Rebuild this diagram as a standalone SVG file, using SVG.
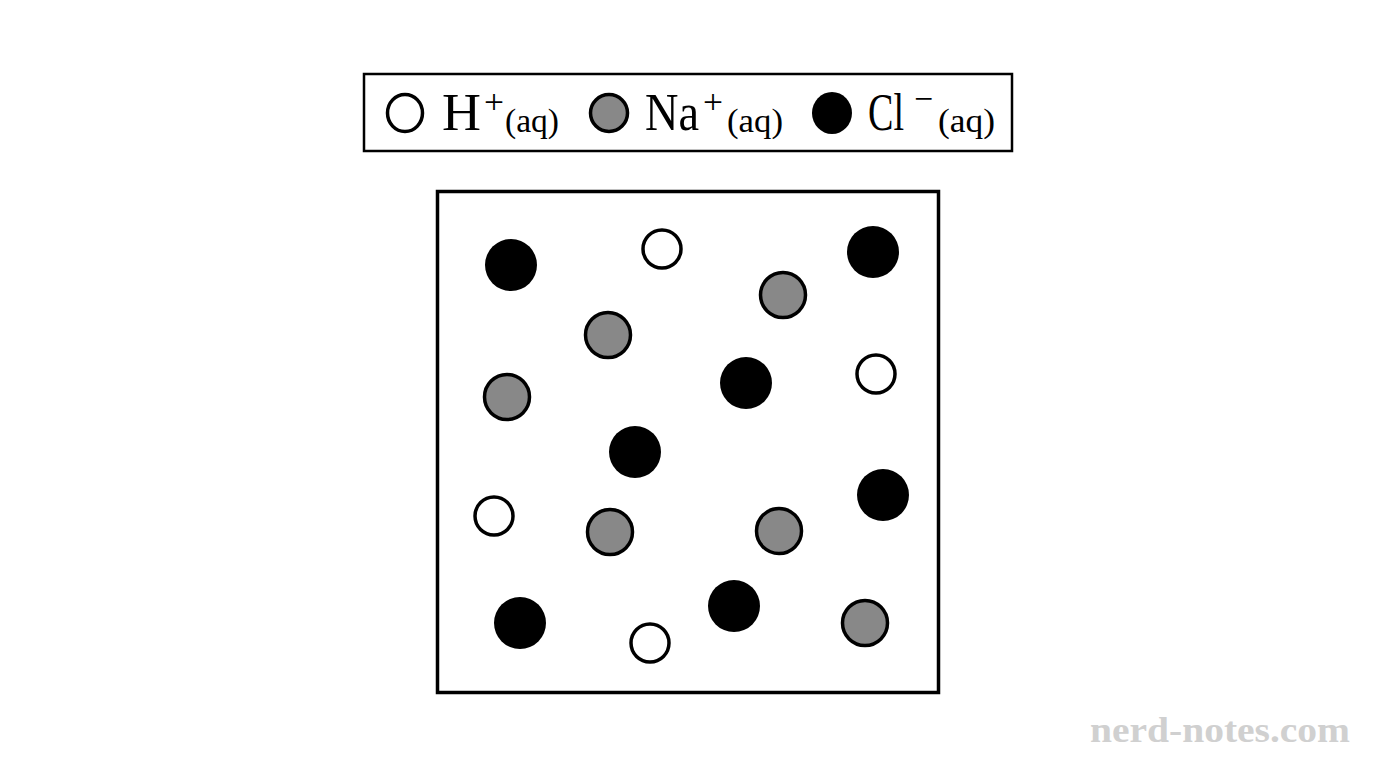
<svg xmlns="http://www.w3.org/2000/svg" width="1376" height="768" viewBox="0 0 1376 768">
<style>
.h{fill:#fff;stroke:#000;stroke-width:3.5}
.na{fill:#888;stroke:#000;stroke-width:3.5}
.cl{fill:#000}
</style>
<rect width="1376" height="768" fill="#fff"/>
<g id="legend">
<rect x="364" y="74" width="648" height="77" fill="#fff" stroke="#000" stroke-width="2.5"/>
<g font-family="'Liberation Serif', 'DejaVu Serif', serif" fill="#000">
<ellipse class="h" cx="405" cy="113" rx="17.5" ry="18.5"/>
<text x="442" y="130" font-size="52" textLength="39" lengthAdjust="spacingAndGlyphs">H</text>
<text x="484" y="113" font-size="34" textLength="20" lengthAdjust="spacingAndGlyphs">+</text>
<text x="505" y="132" font-size="34" textLength="54" lengthAdjust="spacingAndGlyphs">(aq)</text>
<ellipse class="na" cx="609" cy="113" rx="18.5" ry="18.5"/>
<text x="645" y="130" font-size="52" textLength="54" lengthAdjust="spacingAndGlyphs">Na</text>
<text x="703" y="113" font-size="34" textLength="20" lengthAdjust="spacingAndGlyphs">+</text>
<text x="727" y="132" font-size="34" textLength="56" lengthAdjust="spacingAndGlyphs">(aq)</text>
<ellipse class="cl" cx="832" cy="113" rx="20" ry="21"/>
<text x="868" y="130" font-size="52" textLength="36" lengthAdjust="spacingAndGlyphs">Cl</text>
<text x="914" y="110" font-size="34" textLength="19" lengthAdjust="spacingAndGlyphs">−</text>
<text x="938" y="132" font-size="34" textLength="57" lengthAdjust="spacingAndGlyphs">(aq)</text>
</g>
</g>
<g id="container">
<rect x="437.5" y="191.5" width="501" height="501" fill="none" stroke="#000" stroke-width="3.5"/>
</g>
<g id="ions">
<circle class="cl" cx="511" cy="265" r="26"/>
<circle class="cl" cx="873" cy="252" r="26"/>
<circle class="cl" cx="746" cy="383" r="26"/>
<circle class="cl" cx="635" cy="452" r="26"/>
<circle class="cl" cx="883" cy="495" r="26"/>
<circle class="cl" cx="520" cy="623" r="26"/>
<circle class="cl" cx="734" cy="606" r="26"/>
<circle class="h" cx="662" cy="249" r="19"/>
<circle class="h" cx="876" cy="374" r="19"/>
<circle class="h" cx="494" cy="516" r="19"/>
<circle class="h" cx="650" cy="643" r="19"/>
<circle class="na" cx="783" cy="295" r="22.5"/>
<circle class="na" cx="608" cy="335" r="22.5"/>
<circle class="na" cx="507" cy="397" r="22.5"/>
<circle class="na" cx="610" cy="532" r="22.5"/>
<circle class="na" cx="779" cy="531" r="22.5"/>
<circle class="na" cx="865" cy="623" r="22.5"/>
</g>
<text x="1090" y="742" font-family="'Liberation Serif', serif" font-size="36" font-weight="bold" fill="#d0d0d0" textLength="260" lengthAdjust="spacingAndGlyphs">nerd-notes.com</text>
</svg>
